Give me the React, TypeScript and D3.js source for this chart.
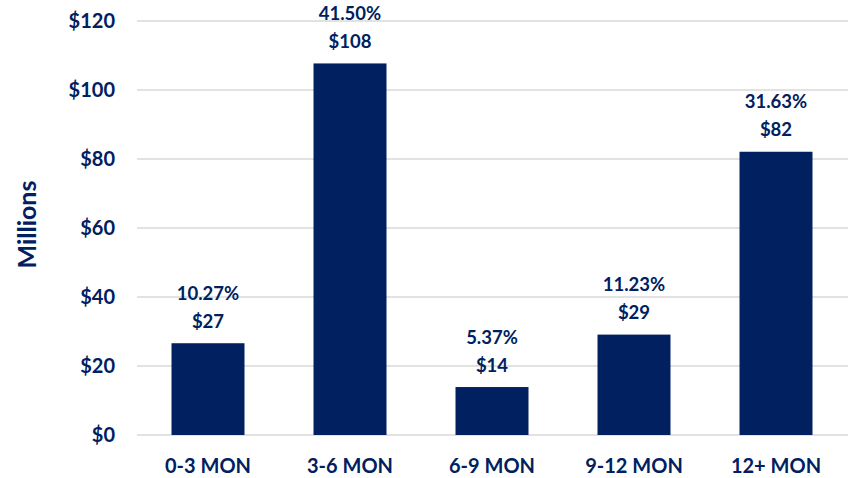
import React from "react";
import * as d3 from "d3";

const categories = ["0-3 MON", "3-6 MON", "6-9 MON", "9-12 MON", "12+ MON"];
const values = [26.6, 107.7, 13.9, 29.1, 82.1];
const percentLabels = ["10.27%", "41.50%", "5.37%", "11.23%", "31.63%"];
const valueLabels = ["$27", "$108", "$14", "$29", "$82"];
const yTicks = [0, 20, 40, 60, 80, 100, 120];

const W = 851;
const H = 478;
const navy = "#002060";
const font = "Lato, 'Open Sans', sans-serif";

export default function App() {
  const x = d3.scaleBand<string>().domain(categories).range([137, 847]).paddingInner(0.486).paddingOuter(0.243);
  const y = d3.scaleLinear().domain([0, 120]).range([435, 21]);
  return (
    <svg width={W} height={H} style={{ position: "absolute", left: 0, top: 0 }} fontFamily={font}>
      <rect width={W} height={H} fill="#fff" />
      {yTicks.map((t) => (
        <g key={t}>
          <line x1={137} x2={848} y1={y(t)} y2={y(t)} stroke="#d9d9d9" strokeWidth={1.5} />
          <text x={115} y={y(t)} dy="0.36em" textAnchor="end" fontSize={20} fontWeight={700} fill={navy}>
            {"$" + t}
          </text>
        </g>
      ))}
      {categories.map((c, i) => {
        const bx = x(c)!;
        const cx = bx + x.bandwidth() / 2;
        const top = y(values[i]);
        return (
          <g key={c}>
            <rect x={bx} y={top} width={x.bandwidth()} height={y(0) - top} fill={navy} />
            <text x={cx} y={top - 50} dy="0.36em" textAnchor="middle" fontSize={18.5} fontWeight={700} fill={navy}>
              {percentLabels[i]}
            </text>
            <text x={cx} y={top - 22} dy="0.36em" textAnchor="middle" fontSize={18.5} fontWeight={700} fill={navy}>
              {valueLabels[i]}
            </text>
            <text x={cx} y={466} dy="0.36em" textAnchor="middle" fontSize={20} fontWeight={700} fill={navy}>
              {c}
            </text>
          </g>
        );
      })}
      <text
        transform={`translate(27, ${y(61)}) rotate(-90)`}
        textAnchor="middle"
        dy="0.36em"
        fontSize={25}
        fontWeight={700}
        fill={navy}
      >
        Millions
      </text>
    </svg>
  );
}
